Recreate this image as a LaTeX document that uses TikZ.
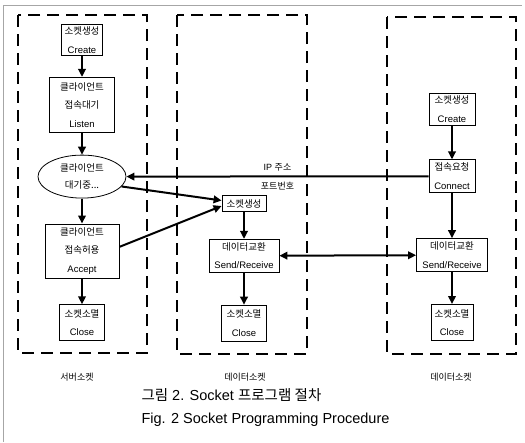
\documentclass[tikz,border=0pt]{standalone}
\usepackage{fontspec}
\setmainfont{Liberation Sans}
\newfontfamily\kr{Noto Sans CJK KR}
\usetikzlibrary{arrows.meta, positioning, shapes.geometric}

\begin{document}
\begin{tikzpicture}[
    x=1pt, y=-1pt,
    node distance=22pt,
    block/.style={rectangle, draw, line width=0.8pt, align=center,
                  inner xsep=2pt, inner ysep=1.5pt,
                  font=\fontsize{9.5}{18.5}\selectfont},
    waitstate/.style={ellipse, draw, line width=0.8pt, align=center,
                  inner sep=0pt, font=\fontsize{9.5}{17}\selectfont},
    arrow/.style={-{Triangle[length=8pt, width=7.5pt]}, line width=2pt},
    twoway/.style={{Triangle[length=8pt, width=7.5pt]}-{Triangle[length=8pt, width=7.5pt]}, line width=2pt},
    frame/.style={draw, line width=2pt, dash pattern=on 12pt off 7pt},
    sockname/.style={font=\fontsize{9}{11}\selectfont\kr},
    caption/.style={anchor=west, font=\fontsize{14.5}{16}\selectfont},
]
    \useasboundingbox (0,0) rectangle (525,442);
    \draw[gray!70, line width=0.5pt] (3,442) -- (3,5) -- (522,5);

    % dashed socket frames
    \draw[frame] (18,15) rectangle (147,353);
    \draw[frame] (177,15) rectangle (307,354);
    \draw[frame] (387,17) rectangle (516,354);

    % server socket
    \node[block, minimum width=41pt, minimum height=31pt] (lcreate) at (82,40) {{\kr 소켓생성}\\Create};
    \node[block, minimum width=65pt, minimum height=55pt, below=21pt of lcreate] (llisten) {{\kr 클라이언트}\\{\kr 접속대기}\\Listen};
    \node[waitstate, minimum width=88pt, minimum height=43pt, below=22pt of llisten] (lwait) {{\kr 클라이언트}\\{\kr 대기중...}};
    \node[block, minimum width=74pt, minimum height=54pt, below=25pt of lwait] (laccept) {{\kr 클라이언트}\\{\kr 접속허용}\\Accept};
    \node[block, minimum width=45pt, minimum height=36pt, below=26pt of laccept] (lclose) {{\kr 소켓소멸}\\Close};

    % data socket (server side)
    \node[block, minimum width=44pt, minimum height=16pt] (msock) at (244,203.5) {{\kr 소켓생성}};
    \node[block, minimum width=70pt, minimum height=33pt, below=27pt of msock] (msend) {{\kr 데이터교환}\\Send/Receive};
    \node[block, minimum width=45pt, minimum height=36pt, below=32pt of msend] (mclose) {{\kr 소켓소멸}\\Close};

    % data socket (client side)
    \node[block, minimum width=46pt, minimum height=32pt] (rcreate) at (452,109) {{\kr 소켓생성}\\Create};
    \node[block, minimum width=46pt, minimum height=33pt, below=34pt of rcreate] (rconnect) {{\kr 접속요청}\\Connect};
    \node[block, minimum width=71pt, minimum height=33pt, below=45pt of rconnect] (rsend) {{\kr 데이터교환}\\Send/Receive};
    \node[block, minimum width=42pt, minimum height=36pt, below=32pt of rsend] (rclose) {{\kr 소켓소멸}\\Close};

    % frame names
    \node[sockname] (lname) at (77,377) {서버소켓};
    \node[sockname] (mname) at (245,377) {데이터소켓};
    \node[sockname] (rname) at (451,377) {데이터소켓};

    % caption
    \node[caption] (capkr) at (138,395) {{\kr 그림} 2. Socket {\kr 프로그램 절차}};
    \node[caption] (capen) at (138,420) {Fig. 2 Socket Programming Procedure};

    % arrows
    \draw[arrow] (lcreate) -- (llisten);
    \draw[arrow] (llisten) -- (lwait);
    \draw[arrow] (lwait) -- (laccept);
    \draw[arrow] (laccept) -- (lclose);
    \draw[arrow] (msock) -- (msend);
    \draw[arrow] (msend) -- (mclose);
    \draw[arrow] (rcreate) -- (rconnect);
    \draw[arrow] (rconnect) -- (rsend);
    \draw[arrow] (rsend) -- (rclose);
    \draw[arrow] (rconnect.west) -- (lwait.east)
        node[midway, above=1pt, font=\fontsize{9}{11}\selectfont] {IP {\kr 주소}}
        node[midway, below=1pt, font=\fontsize{9}{11}\selectfont\kr] {포트번호};
    \draw[arrow] (lwait.-14) -- ([yshift=3pt]msock.west);
    \draw[arrow] ([yshift=4pt]laccept.east) -- ([yshift=-2.5pt]msock.west);
    \draw[twoway] (msend) -- (rsend);
\end{tikzpicture}
\end{document}
